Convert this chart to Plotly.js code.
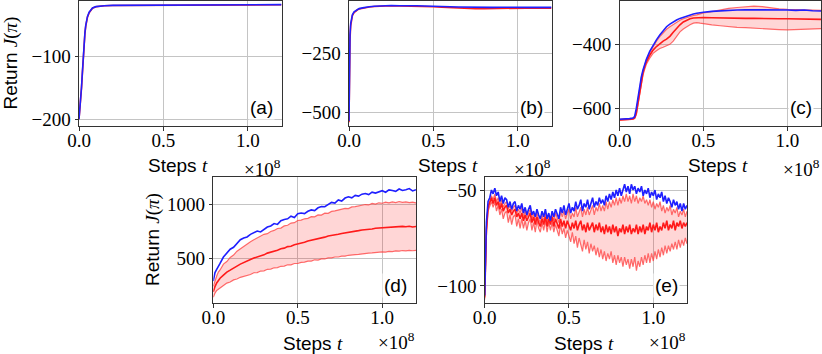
<!DOCTYPE html>
<html>
<head>
<meta charset="utf-8">
<script src="https://cdn.plot.ly/plotly-3.0.1.min.js"></script>
<style>html,body{margin:0;padding:0;background:#fff;}#chart{width:822px;height:354px;}</style>
</head>
<body>
<div id="chart"></div>
<script>
// ---------- data (steps in units of 1e8) ----------
const xA = [0, 0.005, 0.01, 0.015, 0.02, 0.025, 0.03, 0.035, 0.04, 0.05, 0.06, 0.07, 0.08, 0.1, 0.12, 0.15, 0.2, 0.3, 0.4, 0.5, 0.6, 0.7, 0.8, 0.9, 1.0, 1.1, 1.2];
const aBlue = [-200, -185, -168, -148, -125, -100, -78, -62, -50, -36, -29, -25, -22, -20, -19, -18.5, -18, -17.8, -17.5, -17.3, -17.2, -17.1, -17.0, -17.0, -16.9, -16.9, -16.8];
const aRed  = [-200, -186, -170, -150, -127, -102, -80, -63, -51, -37, -30, -25.5, -22.5, -20.3, -19.2, -18.7, -18.2, -18, -17.8, -17.6, -17.5, -17.4, -17.3, -17.3, -17.2, -17.2, -17.1];

const xB = [0, 0.003, 0.006, 0.01, 0.015, 0.02, 0.03, 0.04, 0.05, 0.06, 0.08, 0.1, 0.12, 0.15, 0.2, 0.25, 0.3, 0.35, 0.4, 0.45, 0.5, 0.55, 0.6, 0.65, 0.7, 0.75, 0.8, 0.85, 0.9, 0.95, 1.0, 1.05, 1.1, 1.15, 1.2];
const bBlue = [-535, -300, -170, -125, -100, -88, -76, -70, -66, -62, -59, -56, -54, -52, -50, -49, -50, -49, -50, -51, -51, -52, -54, -55, -56, -58, -57, -57, -56, -57, -56, -57, -56, -56, -57];
const bRed  = [-540, -320, -190, -135, -106, -92, -79, -72, -67, -64, -60, -57, -55, -53, -51, -50, -51, -51, -52, -53, -54, -56, -58, -59, -60, -62, -62, -61, -61, -61, -61, -60, -60, -60, -60];

const xC = [0, 0.02, 0.04, 0.06, 0.08, 0.09, 0.10, 0.11, 0.12, 0.13, 0.14, 0.15, 0.16, 0.18, 0.20, 0.22, 0.24, 0.26, 0.28, 0.30, 0.32, 0.34, 0.36, 0.38, 0.40, 0.42, 0.44, 0.46, 0.48, 0.50, 0.55, 0.60, 0.65, 0.70, 0.75, 0.80, 0.85, 0.90, 0.95, 1.00, 1.05, 1.10, 1.15, 1.20];
const cBlue  = [-634, -634, -633, -632, -630, -626, -600, -565, -530, -502, -480, -462, -447, -422, -402, -386, -371, -357, -345, -337, -330, -324, -319, -315, -311, -308, -305, -303, -301, -300, -297, -295, -294, -293, -292, -292, -291, -293, -292, -293, -294, -293, -295, -296];
const cMean  = [-636, -636, -635, -634, -633, -630, -615, -580, -545, -510, -488, -470, -455, -434, -418, -407, -397, -390, -384, -375, -362, -350, -339, -330, -324, -320, -318, -317, -316, -316, -317, -318, -318, -319, -319, -319, -320, -320, -320, -320, -321, -321, -321, -322];
const cLower = [-637, -637, -636, -635, -634, -632, -620, -590, -555, -520, -496, -478, -462, -443, -428, -420, -413, -409, -405, -400, -390, -375, -361, -352, -345, -339, -334, -332, -334, -336, -339, -342, -345, -347, -348, -350, -351, -353, -354, -355, -354, -353, -352, -351];
const cUpper = [-634, -634, -633, -632, -631, -628, -608, -572, -536, -505, -482, -464, -449, -425, -405, -390, -376, -364, -353, -345, -338, -331, -325, -320, -316, -313, -310, -308, -305, -302, -298, -292, -288, -285, -283, -281, -282, -286, -289, -291, -292, -293, -293, -294];

const xD = [0, 0.005, 0.01, 0.02, 0.03, 0.04, 0.06, 0.08, 0.10, 0.12, 0.14, 0.16, 0.18, 0.20, 0.22, 0.24, 0.26, 0.28, 0.30, 0.32, 0.34, 0.36, 0.38, 0.40, 0.42, 0.44, 0.46, 0.48, 0.50, 0.52, 0.54, 0.56, 0.58, 0.60, 0.62, 0.64, 0.66, 0.68, 0.70, 0.72, 0.74, 0.76, 0.78, 0.80, 0.82, 0.84, 0.86, 0.88, 0.90, 0.92, 0.94, 0.96, 0.98, 1.00, 1.02, 1.04, 1.06, 1.08, 1.10, 1.12, 1.14, 1.16, 1.18, 1.20];
const dBlue  = [290, 325, 368, 398, 432, 452, 512, 548, 584, 602, 636, 672, 688, 698, 722, 736, 752, 744, 770, 790, 800, 822, 814, 848, 860, 866, 890, 878, 912, 920, 914, 936, 948, 942, 968, 980, 978, 996, 1018, 1012, 1040, 1030, 1058, 1070, 1060, 1082, 1076, 1094, 1100, 1090, 1112, 1104, 1118, 1126, 1112, 1134, 1128, 1120, 1142, 1128, 1134, 1146, 1124, 1136];
const dUpper = [240, 264, 304, 336, 372, 392, 446, 470, 508, 530, 566, 588, 618, 638, 654, 672, 690, 700, 722, 728, 748, 758, 776, 780, 800, 806, 826, 830, 850, 854, 866, 870, 886, 884, 902, 900, 918, 916, 934, 940, 946, 952, 962, 960, 976, 978, 986, 990, 998, 994, 1008, 1002, 1014, 1010, 1020, 1014, 1022, 1016, 1026, 1018, 1022, 1016, 1020, 1014];
const dMean  = [190, 220, 238, 272, 292, 316, 344, 372, 390, 412, 428, 446, 458, 476, 488, 502, 510, 524, 532, 548, 556, 566, 574, 588, 594, 608, 612, 626, 632, 644, 648, 660, 666, 676, 682, 690, 696, 706, 710, 718, 722, 730, 734, 742, 746, 752, 756, 762, 764, 770, 772, 778, 780, 784, 786, 790, 790, 794, 793, 796, 792, 797, 790, 794];
const dLower = [140, 164, 178, 202, 214, 232, 248, 270, 280, 300, 308, 324, 332, 346, 350, 366, 368, 382, 384, 398, 400, 412, 414, 426, 428, 440, 440, 452, 452, 462, 464, 474, 474, 486, 484, 494, 494, 504, 504, 512, 512, 520, 520, 528, 528, 534, 536, 542, 542, 548, 550, 554, 556, 560, 558, 564, 562, 568, 566, 572, 568, 574, 570, 574];

const xE = [0, 0.005, 0.01, 0.02, 0.03, 0.04, 0.05, 0.06, 0.07, 0.08, 0.09, 0.10, 0.11, 0.12, 0.13, 0.14, 0.15, 0.16, 0.17, 0.18, 0.19, 0.20, 0.21, 0.22, 0.23, 0.24, 0.25, 0.26, 0.27, 0.28, 0.29, 0.30, 0.31, 0.32, 0.33, 0.34, 0.35, 0.36, 0.37, 0.38, 0.39, 0.40, 0.41, 0.42, 0.43, 0.44, 0.45, 0.46, 0.47, 0.48, 0.49, 0.50, 0.51, 0.52, 0.53, 0.54, 0.55, 0.56, 0.57, 0.58, 0.59, 0.60, 0.61, 0.62, 0.63, 0.64, 0.65, 0.66, 0.67, 0.68, 0.69, 0.70, 0.71, 0.72, 0.73, 0.74, 0.75, 0.76, 0.77, 0.78, 0.79, 0.80, 0.81, 0.82, 0.83, 0.84, 0.85, 0.86, 0.87, 0.88, 0.89, 0.90, 0.91, 0.92, 0.93, 0.94, 0.95, 0.96, 0.97, 0.98, 0.99, 1.00, 1.01, 1.02, 1.03, 1.04, 1.05, 1.06, 1.07, 1.08, 1.09, 1.10, 1.11, 1.12, 1.13, 1.14, 1.15, 1.16, 1.17, 1.18, 1.19, 1.20];
const eBlue  = [-105, -84, -67, -56, -54, -50, -52, -49, -53, -51, -56, -53, -57, -54, -55, -59, -56, -60, -57, -56, -61, -58, -60, -57, -62, -59, -63, -60, -58, -63, -61, -64, -60, -63, -65, -61, -64, -60, -65, -62, -66, -61, -64, -60, -63, -65, -59, -62, -58, -63, -60, -57, -62, -59, -61, -56, -60, -58, -55, -61, -57, -59, -55, -60, -57, -54, -59, -56, -58, -54, -57, -55, -58, -53, -56, -52, -55, -51, -54, -50, -53, -49, -53, -50, -47, -51, -48, -52, -47, -50, -48, -52, -49, -51, -48, -53, -50, -52, -49, -54, -51, -53, -50, -55, -52, -54, -51, -56, -53, -57, -54, -56, -59, -55, -58, -56, -60, -57, -61, -57, -60, -58];
const eUpper = [-105, -86, -70, -58, -56, -53, -55, -52, -56, -54, -58, -55, -59, -57, -56, -60, -58, -61, -59, -58, -62, -60, -62, -59, -64, -61, -64, -62, -60, -65, -62, -66, -62, -65, -67, -63, -66, -62, -67, -63, -67, -62, -66, -62, -65, -67, -61, -64, -61, -65, -62, -60, -65, -62, -64, -59, -64, -61, -59, -64, -60, -63, -59, -63, -60, -58, -63, -59, -61, -57, -61, -58, -61, -56, -60, -56, -59, -55, -58, -54, -58, -54, -57, -53, -56, -52, -56, -53, -57, -52, -56, -53, -57, -54, -56, -53, -57, -55, -58, -55, -59, -56, -60, -57, -59, -56, -61, -58, -62, -59, -61, -58, -63, -60, -62, -59, -64, -61, -63, -60, -64, -61];
const eMean  = [-106, -88, -71, -59, -56, -54, -57, -54, -58, -56, -60, -57, -61, -59, -58, -62, -60, -63, -61, -60, -64, -62, -65, -62, -66, -63, -66, -64, -62, -67, -64, -68, -64, -67, -69, -65, -68, -64, -69, -65, -68, -64, -69, -65, -68, -70, -65, -69, -66, -70, -66, -69, -71, -67, -70, -66, -71, -68, -66, -71, -68, -72, -67, -71, -69, -67, -72, -68, -71, -67, -72, -69, -73, -68, -72, -69, -73, -68, -72, -69, -74, -70, -72, -68, -73, -69, -72, -68, -73, -70, -72, -68, -73, -69, -72, -68, -73, -69, -71, -67, -72, -68, -71, -67, -72, -69, -71, -67, -70, -66, -71, -68, -70, -66, -71, -67, -69, -66, -70, -67, -69, -67];
const eLower = [-107, -90, -74, -61, -58, -56, -59, -56, -61, -58, -63, -60, -65, -62, -61, -67, -63, -68, -64, -63, -69, -65, -70, -65, -70, -66, -71, -67, -65, -71, -67, -72, -66, -70, -72, -67, -71, -66, -72, -67, -71, -67, -72, -68, -71, -74, -68, -73, -70, -75, -71, -74, -77, -72, -78, -74, -80, -75, -79, -82, -76, -81, -77, -83, -78, -82, -79, -84, -80, -85, -81, -86, -82, -87, -83, -86, -82, -88, -84, -89, -84, -88, -85, -90, -85, -89, -86, -91, -86, -90, -85, -92, -87, -90, -85, -89, -84, -88, -83, -88, -83, -87, -82, -86, -81, -85, -80, -84, -79, -83, -79, -82, -78, -81, -77, -81, -76, -80, -76, -79, -75, -78];

const xTicks = [0, 0.5, 1.0];
const xTickText = ['0.0', '0.5', '1.0'];
const yTicksA = [-200, -100], yTextA = ['\u2212200', '\u2212100'];
const yTicksB = [-500, -250], yTextB = ['\u2212500', '\u2212250'];
const yTicksC = [-600, -400], yTextC = ['\u2212600', '\u2212400'];
const yTicksD = [500, 1000], yTextD = ['500', '1000'];
const yTicksE = [-100, -50], yTextE = ['\u2212100', '\u221250'];
const panelLabels = ['(a)', '(b)', '(c)', '(d)', '(e)'];

// ---------- styling ----------
const BLUE = '#1f1fff', RED = '#ff1a1a', EDGE = 'rgba(255,60,60,0.75)', FILL = 'rgba(255,0,0,0.16)';
const LW = 1.6;
const traces = [];
function line(x, y, n, color, w) {
  return {x: x, y: y, xaxis: 'x' + (n === 1 ? '' : n), yaxis: 'y' + (n === 1 ? '' : n),
          mode: 'lines', line: {color: color, width: w}, hoverinfo: 'skip', showlegend: false};
}
function band(x, lo, hi, n) {
  traces.push(line(x, lo, n, EDGE, 1.2));
  const t = line(x, hi, n, EDGE, 1.2); t.fill = 'tonexty'; t.fillcolor = FILL; traces.push(t);
}
traces.push(line(xA, aRed, 1, RED, LW));
traces.push(line(xA, aBlue, 1, BLUE, LW));
traces.push(line(xB, bRed, 2, RED, LW));
traces.push(line(xB, bBlue, 2, BLUE, LW));
band(xC, cLower, cUpper, 3);
traces.push(line(xC, cMean, 3, RED, LW));
traces.push(line(xC, cBlue, 3, BLUE, LW));
band(xD, dLower, dUpper, 4);
traces.push(line(xD, dMean, 4, RED, LW));
traces.push(line(xD, dBlue, 4, BLUE, LW));
band(xE, eLower, eUpper, 5);
traces.push(line(xE, eMean, 5, RED, LW));
traces.push(line(xE, eBlue, 5, BLUE, LW));

const W = 822, H = 354;
const xDom = [[79, 281.5], [349, 551.5], [619.5, 821], [213.3, 416], [484.7, 687]];
const yDomPx = [[1, 126], [1, 126], [1, 126], [177, 303], [177, 303]];
const yRanges = [[-210.7, -11], [-556, -30], [-655, -264.7], [86, 1253], [-108.9, -43.2]];
const yT = [[yTicksA, yTextA], [yTicksB, yTextB], [yTicksC, yTextC], [yTicksD, yTextD], [yTicksE, yTextE]];

const layout = {width: W, height: H, margin: {l: 0, r: 0, t: 0, b: 0},
  paper_bgcolor: '#fff', plot_bgcolor: '#fff', showlegend: false, annotations: []};
const SERIF = 'Liberation Serif';
const tickFont = {family: SERIF, size: 19, color: '#000'};
const sans = 'Liberation Sans';
const serifSpan = '<span style="font-family:Liberation Serif">';
for (let i = 0; i < 5; i++) {
  const n = i + 1, s = n === 1 ? '' : String(n);
  const common = {showline: true, mirror: true, linecolor: '#333', linewidth: 1,
    showgrid: true, gridcolor: '#c4c4c4', gridwidth: 1, zeroline: false,
    ticks: 'outside', ticklen: 3.5, tickwidth: 1, tickcolor: '#333', tickfont: tickFont, fixedrange: true};
  layout['xaxis' + s] = Object.assign({}, common, {domain: [xDom[i][0] / W, xDom[i][1] / W],
    range: [0, 1.2], anchor: 'y' + s, tickmode: 'array', tickvals: xTicks, ticktext: xTickText,
    ticklabelposition: 'outside', ticklabelstandoff: -6});
  layout['yaxis' + s] = Object.assign({}, common, {domain: [1 - yDomPx[i][1] / H, 1 - yDomPx[i][0] / H],
    range: yRanges[i], anchor: 'x' + s, tickmode: 'array', tickvals: yT[i][0], ticktext: yT[i][1]});
  // panel label
  layout.annotations.push({text: panelLabels[i], xref: 'x' + s + ' domain', yref: 'y' + s + ' domain',
    x: 1, y: 0, xanchor: 'right', yanchor: 'middle', xshift: -7, yshift: 18, showarrow: false,
    bgcolor: '#fff', borderpad: 1, font: {family: sans, size: 19, color: '#000'}});
  // x title
  const ty = n <= 3 ? 1 - 165 / H : 1 - 343 / H;
  layout.annotations.push({text: 'Steps ' + serifSpan + '<i>t</i></span>', xref: 'x' + s + ' domain', yref: 'paper',
    x: 0.5, y: ty, xanchor: 'center', yanchor: 'middle', xshift: -2, showarrow: false,
    font: {family: sans, size: 19, color: '#000'}});
  // offset text
  layout.annotations.push({text: '\u00d710<sup>8</sup>', xref: 'x' + s + ' domain', yref: 'paper',
    x: 1, y: ty, xanchor: 'right', yanchor: 'middle', xshift: 1, yshift: n <= 3 ? -3 : 2, showarrow: false,
    font: {family: SERIF, size: 19, color: '#000'}});
}
// y titles
layout.annotations.push({text: 'Return ' + serifSpan + '<i>J</i>(<i>\u03c0</i>)</span>', xref: 'paper', yref: 'y domain',
  x: 11 / W, y: 0.5, xanchor: 'center', yanchor: 'middle', textangle: -90, showarrow: false,
  font: {family: sans, size: 19, color: '#000'}});
layout.annotations.push({text: 'Return ' + serifSpan + '<i>J</i>(<i>\u03c0</i>)</span>', xref: 'paper', yref: 'y4 domain',
  x: 153 / W, y: 0.5, xanchor: 'center', yanchor: 'middle', textangle: -90, showarrow: false,
  font: {family: sans, size: 19, color: '#000'}});

Plotly.newPlot('chart', traces, layout, {staticPlot: true, displayModeBar: false});
</script>
</body>
</html>
